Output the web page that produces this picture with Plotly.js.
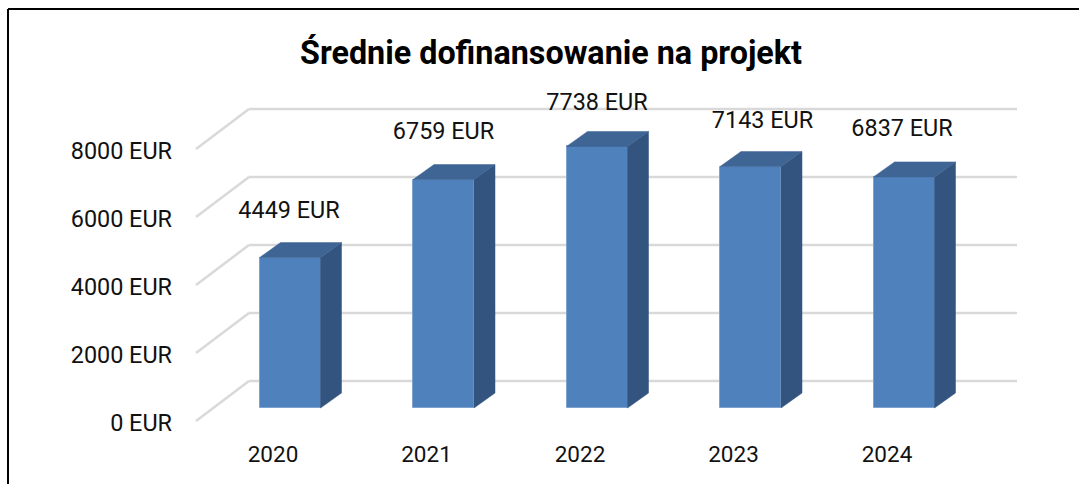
<!DOCTYPE html>
<html><head><meta charset="utf-8">
<script src="https://cdn.plot.ly/plotly-3.0.1.min.js"></script>
<style>html,body{margin:0;padding:0;background:#fff}#c{width:1079px;height:484px}</style>
</head><body><div id="c"></div>
<script>
const years = ['2020','2021','2022','2023','2024'];
const values = [4449,6759,7738,7143,6837];
const gridValues = [0,2000,4000,6000,8000];
const labelNudgeX = [-1,0,0,12,-2];
const labelNudgeY = [-30,-31,-27,-29,-32];

const W=1079,H=484;
const slot=153.5, cx0=290, base=408, pxPerUnit=0.0338, wallPerUnit=0.034;
const halfW=30.5, sideDx=21, sideDy=15, labelRow=423;
const ux=p=>p/slot, uy=p=>p/pxPerUnit, uw=p=>p/wallPerUnit;
const idx=years.map((_,i)=>i);
const xRange=[ux(-cx0),ux(W-cx0)];
const yRange=[uy(base-H),uy(base)];
const y2Range=[uw(labelRow-H),uw(labelRow)];

const sideX=[],sideY=[],topX=[],topY=[];
idx.forEach(i=>{
  const r=i+ux(halfW), l=i-ux(halfW), dx=ux(sideDx), dy=uy(sideDy), v=values[i];
  sideX.push(r,r+dx,r+dx,r,r,null); sideY.push(0,dy,v+dy,v,0,null);
  topX.push(l,r,r+dx,l+dx,l,null); topY.push(v,v,v+dy,v+dy,v,null);
});
const gridShapes=[];
gridValues.forEach(v=>{
  const common={type:'line',xref:'x',yref:'y2',layer:'below',line:{color:'#d9d9d9',width:2.5}};
  const xf=ux(196-cx0),xb=ux(249-cx0),xe=ux(1017-cx0),front=uw(labelRow-421),back=uw(labelRow-381);
  gridShapes.push(Object.assign({},common,{x0:xf,x1:xb,y0:v+front,y1:v+back}));
  gridShapes.push(Object.assign({},common,{x0:xb,x1:xe,y0:v+back,y1:v+back}));
});
const frame=[
  {type:'line',xref:'paper',yref:'paper',x0:8/W,x1:8/W,y0:1-9/H,y1:0,line:{color:'#000',width:2}},
  {type:'line',xref:'paper',yref:'paper',x0:8/W,x1:1,y0:1-9/H,y1:1-9/H,line:{color:'#000',width:2}}
];
const font='Roboto, sans-serif';
const traces=[
  {type:'bar',x:idx,y:values,width:2*ux(halfW),marker:{color:'#4f81bd',line:{color:'#7ea3d0',width:1}},hoverinfo:'skip',xaxis:'x',yaxis:'y'},
  {type:'scatter',mode:'lines',x:sideX,y:sideY,fill:'toself',fillcolor:'#33547e',line:{color:'#33547e',width:0.5},hoverinfo:'skip',xaxis:'x',yaxis:'y'},
  {type:'scatter',mode:'lines',x:topX,y:topY,fill:'toself',fillcolor:'#3e6594',line:{color:'#3e6594',width:0.5},hoverinfo:'skip',xaxis:'x',yaxis:'y'},
  {type:'scatter',mode:'text',x:idx.map(i=>i+ux(labelNudgeX[i])),
   y:idx.map(i=>values[i]+uy(sideDy-labelNudgeY[i])),
   text:values.map(v=>v+' EUR'),textposition:'middle center',textfont:{family:font,size:23.4,color:'#111'},hoverinfo:'skip',xaxis:'x',yaxis:'y'},
  {type:'scatter',mode:'none',x:gridValues.map(()=>0),y:gridValues,hoverinfo:'skip',xaxis:'x',yaxis:'y2'}
];
const layout={
  width:W,height:H,showlegend:false,paper_bgcolor:'#fff',plot_bgcolor:'rgba(0,0,0,0)',
  margin:{l:0,r:0,t:0,b:0},
  title:{text:'Średnie dofinansowanie na projekt',font:{family:font,size:32.3,color:'#000',weight:700},xref:'paper',yref:'paper',x:551/W,y:1-53/H,xanchor:'center',yanchor:'middle'},
  xaxis:{range:xRange,domain:[0,1],anchor:'free',position:1-438/H,tickmode:'array',
    tickvals:idx.map(i=>i-ux(17)),ticktext:years,tickfont:{family:font,size:22.5,color:'#111'},
    showgrid:false,zeroline:false,showline:false,ticks:''},
  yaxis:{range:yRange,domain:[0,1],visible:false,showgrid:false,zeroline:false},
  yaxis2:{range:y2Range,domain:[0,1],overlaying:'y',anchor:'free',position:172/W,side:'left',
    tickmode:'array',tickvals:gridValues,ticktext:gridValues.map(v=>v+' EUR'),tickfont:{family:font,size:23.4,color:'#111'},
    showgrid:false,zeroline:false,showline:false,ticks:''},
  shapes:gridShapes.concat(frame),
  bargap:0
};
Plotly.newPlot('c',traces,layout,{displayModeBar:false,responsive:false});
</script></body></html>
